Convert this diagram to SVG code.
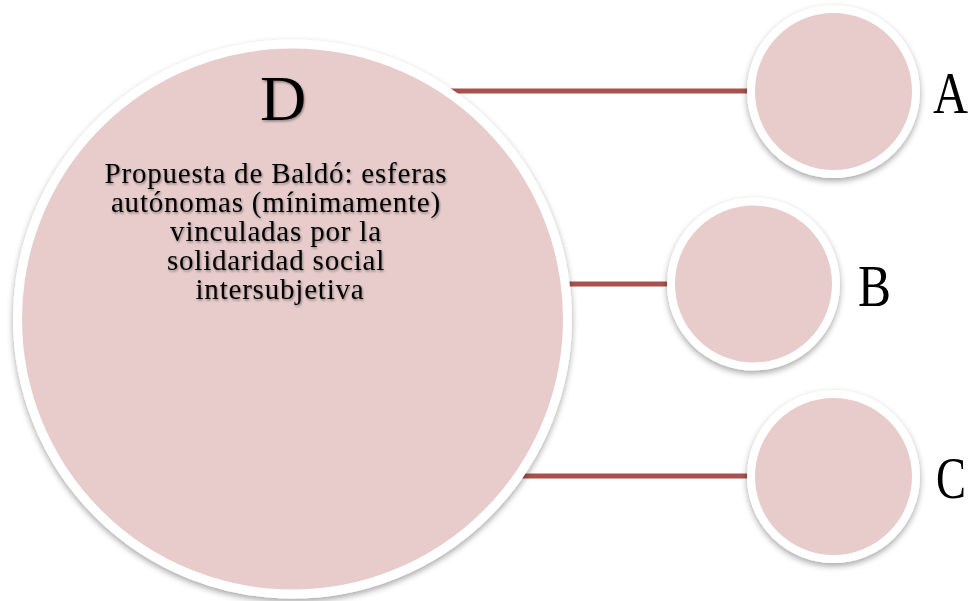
<svg xmlns="http://www.w3.org/2000/svg" width="974" height="601" viewBox="0 0 974 601">
<style>
.node{fill:#E8CCCC;stroke:#FFFFFF;filter:url(#sh)}
.conn{stroke:#A9524D;stroke-width:5;fill:none}
.lbl{font-family:"Liberation Serif","DejaVu Serif",serif;fill:#000000}
.big{font-size:64px;text-anchor:middle}
.body{font-size:29px;letter-spacing:0.8px;text-anchor:middle;filter:url(#tsh)}
.side{font-size:60px}
</style>
<defs>
<filter id="sh" x="-20%" y="-20%" width="140%" height="140%">
<feDropShadow dx="0" dy="3" stdDeviation="3" flood-color="#000" flood-opacity="0.35"/>
</filter>
<filter id="tsh" x="-10%" y="-20%" width="120%" height="150%">
<feDropShadow dx="1" dy="1.5" stdDeviation="1.2" flood-color="#000" flood-opacity="0.4"/>
</filter>
</defs>
<rect width="974" height="601" fill="#FFFFFF"/>
<g id="connectors">
<line class="conn" x1="292" y1="91" x2="833" y2="91"/>
<line class="conn" x1="292" y1="284" x2="753" y2="284"/>
<line class="conn" x1="292" y1="476" x2="833" y2="476"/>
</g>
<g id="node-D">
<circle class="node" cx="292.5" cy="319" r="275" stroke-width="9"/>
<text class="lbl big" x="283" y="120" style="filter:url(#tsh)">D</text>
<text class="lbl body">
<tspan x="280" y="183">Propuesta de Baldó: esferas</tspan>
<tspan x="280" y="212">autónomas (mínimamente)</tspan>
<tspan x="280" y="241">vinculadas por la</tspan>
<tspan x="280" y="270">solidaridad social</tspan>
<tspan x="280" y="299">intersubjetiva</tspan>
</text>
</g>
<g id="node-A">
<circle class="node" cx="833.5" cy="91.5" r="82.5" stroke-width="8"/>
<text class="lbl side" x="933" y="113" textLength="35" lengthAdjust="spacingAndGlyphs">A</text>
</g>
<g id="node-B">
<circle class="node" cx="753.5" cy="284" r="82.5" stroke-width="8"/>
<text class="lbl side" x="858" y="306" textLength="33" lengthAdjust="spacingAndGlyphs">B</text>
</g>
<g id="node-C">
<circle class="node" cx="833.5" cy="476.5" r="82.5" stroke-width="8"/>
<text class="lbl side" x="936" y="498" textLength="30" lengthAdjust="spacingAndGlyphs">C</text>
</g>
</svg>
